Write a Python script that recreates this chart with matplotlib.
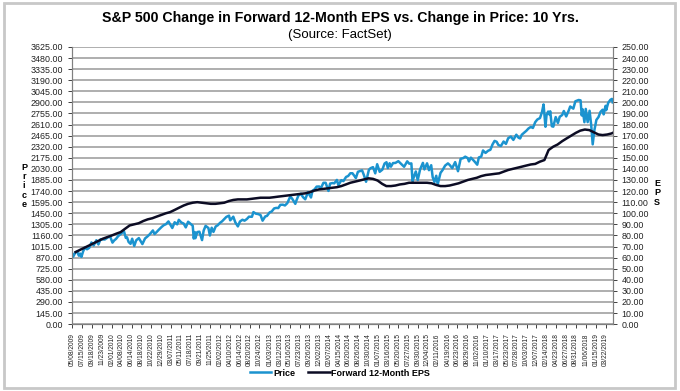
import pandas as pd
import numpy as np
import matplotlib
matplotlib.use("Agg")
import matplotlib.pyplot as plt
from matplotlib.patches import Rectangle

plt.rcParams['font.family'] = ['Liberation Sans', 'DejaVu Sans']

# S&P 500 price (left axis)
price_dates = [
    '2009-05-08', '2009-05-15', '2009-06-01', '2009-06-12', '2009-06-23', '2009-07-01', '2009-07-10', '2009-07-22',
    '2009-08-03', '2009-08-17', '2009-09-01', '2009-09-16', '2009-10-01', '2009-10-19', '2009-11-02', '2009-11-16',
    '2009-12-01', '2009-12-15',
    '2010-01-04', '2010-01-19', '2010-02-05', '2010-02-16', '2010-03-01', '2010-03-15', '2010-04-01', '2010-04-23',
    '2010-05-06', '2010-05-14', '2010-05-25', '2010-06-07', '2010-06-18', '2010-07-02', '2010-07-15', '2010-08-02',
    '2010-08-16', '2010-08-26', '2010-09-13', '2010-09-27', '2010-10-15', '2010-11-05', '2010-11-16', '2010-12-01',
    '2010-12-15',
    '2011-01-03', '2011-01-18', '2011-02-01', '2011-02-18', '2011-03-01', '2011-03-16', '2011-04-01', '2011-04-18',
    '2011-04-29', '2011-05-16', '2011-06-01', '2011-06-15', '2011-07-01', '2011-07-15', '2011-08-01', '2011-08-08',
    '2011-08-15', '2011-08-19', '2011-09-01', '2011-09-15', '2011-10-03', '2011-10-14', '2011-10-27', '2011-11-15',
    '2011-11-25', '2011-12-07', '2011-12-19',
    '2012-01-03', '2012-01-17', '2012-02-01', '2012-02-15', '2012-03-01', '2012-03-15', '2012-04-02', '2012-04-10',
    '2012-04-16', '2012-05-01', '2012-05-15', '2012-06-01', '2012-06-15', '2012-07-02', '2012-07-16', '2012-08-01',
    '2012-08-15', '2012-09-04', '2012-09-14', '2012-10-01', '2012-10-15', '2012-11-01', '2012-11-15', '2012-12-03',
    '2012-12-14',
    '2013-01-02', '2013-01-15', '2013-02-01', '2013-02-15', '2013-03-01', '2013-03-15', '2013-04-01', '2013-04-15',
    '2013-05-01', '2013-05-21', '2013-06-03', '2013-06-24', '2013-07-01', '2013-07-15', '2013-08-01', '2013-08-15',
    '2013-08-30', '2013-09-18', '2013-10-08', '2013-10-18', '2013-11-01', '2013-11-15', '2013-12-02', '2013-12-13',
    '2013-12-31',
    '2014-01-15', '2014-02-03', '2014-02-14', '2014-03-03', '2014-03-14', '2014-04-01', '2014-04-11', '2014-05-01',
    '2014-05-15', '2014-06-02', '2014-06-16', '2014-07-01', '2014-07-15', '2014-07-31', '2014-08-07', '2014-08-21',
    '2014-09-18', '2014-10-01', '2014-10-15', '2014-11-03', '2014-11-14', '2014-12-01', '2014-12-16', '2014-12-29',
    '2015-01-15', '2015-02-02', '2015-02-17', '2015-03-02', '2015-03-11', '2015-03-23', '2015-04-01', '2015-04-15',
    '2015-05-01', '2015-05-21', '2015-06-01', '2015-06-15', '2015-06-29', '2015-07-20', '2015-08-03', '2015-08-17',
    '2015-08-25', '2015-09-01', '2015-09-16', '2015-09-29', '2015-10-15', '2015-11-03', '2015-11-13', '2015-12-01',
    '2015-12-14', '2015-12-29',
    '2016-01-08', '2016-01-20', '2016-02-01', '2016-02-11', '2016-03-01', '2016-03-15', '2016-04-01', '2016-04-20',
    '2016-05-02', '2016-05-19', '2016-06-08', '2016-06-27', '2016-07-15', '2016-08-01', '2016-08-15', '2016-09-01',
    '2016-09-09', '2016-09-22', '2016-10-14', '2016-11-04', '2016-11-15', '2016-12-01', '2016-12-13', '2016-12-30',
    '2017-01-17', '2017-02-01', '2017-02-15', '2017-03-01', '2017-03-15', '2017-03-27', '2017-04-13', '2017-05-01',
    '2017-05-17', '2017-06-01', '2017-06-19', '2017-07-06', '2017-07-26', '2017-08-10', '2017-08-21', '2017-09-01',
    '2017-09-15', '2017-10-02', '2017-10-16', '2017-11-01', '2017-11-15', '2017-12-01', '2017-12-15',
    '2018-01-02', '2018-01-16', '2018-01-26', '2018-02-08', '2018-02-15', '2018-02-26', '2018-03-08', '2018-03-12',
    '2018-03-23', '2018-04-02', '2018-04-18', '2018-05-03', '2018-05-15', '2018-06-01', '2018-06-12', '2018-06-28',
    '2018-07-16', '2018-07-25', '2018-08-15', '2018-08-29', '2018-09-20', '2018-10-03', '2018-10-11', '2018-10-17',
    '2018-10-29', '2018-11-07', '2018-11-20', '2018-12-03', '2018-12-14', '2018-12-24',
    '2019-01-04', '2019-01-18', '2019-02-01', '2019-02-15', '2019-03-01', '2019-03-08', '2019-03-21', '2019-03-25',
    '2019-04-08', '2019-04-23', '2019-05-03', '2019-05-08',
]
price_vals = [
    929, 882, 942, 946, 895, 923, 879, 954,
    1002, 979, 998, 1068, 1029, 1097, 1042, 1109,
    1108, 1107,
    1133, 1150, 1066, 1094, 1115, 1150, 1178, 1217,
    1128, 1136, 1074, 1050, 1117, 1022, 1096, 1125,
    1079, 1047, 1121, 1143, 1176, 1225, 1178, 1206,
    1235,
    1271, 1295, 1307, 1343, 1306, 1257, 1332, 1305,
    1364, 1329, 1315, 1265, 1339, 1316, 1287, 1119,
    1204, 1124, 1204, 1209, 1099, 1224, 1285, 1257,
    1159, 1261, 1206,
    1277, 1293, 1324, 1344, 1374, 1402, 1419, 1358,
    1369, 1405, 1330, 1278, 1342, 1365, 1353, 1375,
    1405, 1404, 1465, 1444, 1440, 1427, 1353, 1409,
    1414,
    1462, 1472, 1513, 1520, 1518, 1560, 1562, 1552,
    1582, 1669, 1640, 1573, 1614, 1682, 1706, 1661,
    1633, 1725, 1656, 1745, 1762, 1798, 1800, 1775,
    1848,
    1848, 1742, 1838, 1845, 1841, 1886, 1816, 1883,
    1870, 1925, 1937, 1973, 1973, 1931, 1910, 1992,
    2011, 1946, 1862, 2017, 2039, 2053, 1972, 2091,
    1992, 2020, 2100, 2117, 2040, 2104, 2059, 2106,
    2108, 2131, 2111, 2084, 2058, 2129, 2098, 2102,
    1868, 1914, 1996, 1884, 2023, 2109, 2023, 2103,
    2013, 2078,
    1922, 1859, 1940, 1829, 1978, 2015, 2073, 2102,
    2081, 2040, 2119, 2000, 2162, 2171, 2190, 2171,
    2128, 2177, 2133, 2085, 2180, 2191, 2271, 2239,
    2268, 2280, 2349, 2396, 2385, 2342, 2329, 2388,
    2357, 2431, 2453, 2409, 2477, 2438, 2428, 2477,
    2500, 2529, 2558, 2579, 2565, 2642, 2676,
    2695, 2777, 2873, 2581, 2731, 2780, 2738, 2783,
    2588, 2582, 2708, 2630, 2711, 2735, 2787, 2716,
    2798, 2846, 2818, 2914, 2931, 2926, 2729, 2809,
    2641, 2814, 2642, 2790, 2600, 2351,
    2532, 2671, 2707, 2776, 2804, 2743, 2855, 2798,
    2895, 2934, 2945, 2900,
]

# Forward 12-month EPS (right axis), first of each month May 2009 - May 2019
eps_vals = [
    65, 67, 69, 71, 73, 75, 77, 78.5,
    80, 81.5, 83, 86, 89, 90, 91, 93, 94.5, 95.5, 97, 98.5,
    100, 101, 103, 105, 107, 108.5, 109.5, 110, 109.5, 109, 108.5, 108.5,
    109, 109.5, 111, 112, 112.5, 112.5, 112.5, 113, 113.5, 114, 114, 114,
    114.5, 115, 115.5, 116, 116.5, 117, 117.5, 118, 119, 120.5, 121.5, 122,
    122.5, 123, 123.5, 124.5, 126, 127.5, 128.5, 129.5, 130.5, 131.5, 131, 129.5,
    126.5, 124.5, 124.5, 125, 126, 126.5, 127.5, 127.5, 127.5, 127.5, 127.5, 127,
    125.5, 124.5, 124.5, 125, 126, 127, 128.5, 130, 131, 132, 133.5, 134.5,
    135, 135.5, 136, 137.5, 139, 140, 141, 142, 143, 144, 144.5, 146.5,
    148, 157, 160, 162, 165, 167.5, 170, 172.5, 174.5, 175.5, 175, 173,
    171, 170.5, 171, 172, 174,
]
eps_dates = pd.date_range('2009-05-08', periods=len(eps_vals), freq='MS')

tick_labels = [
    '05/08/2009', '07/15/2009', '09/18/2009', '11/23/2009', '02/01/2010', '04/08/2010', '06/14/2010',
    '08/18/2010', '10/22/2010', '12/29/2010', '03/07/2011', '05/11/2011', '07/18/2011', '09/21/2011',
    '11/25/2011', '02/02/2012', '04/10/2012', '06/14/2012', '08/20/2012', '10/24/2012', '01/03/2013',
    '03/12/2013', '05/16/2013', '07/23/2013', '09/26/2013', '12/02/2013', '02/07/2014', '04/15/2014',
    '06/20/2014', '08/26/2014', '10/30/2014', '01/07/2015', '03/16/2015', '05/20/2015', '07/27/2015',
    '09/30/2015', '12/04/2015', '02/11/2016', '04/19/2016', '06/23/2016', '08/29/2016', '11/02/2016',
    '01/10/2017', '03/17/2017', '05/23/2017', '07/28/2017', '10/03/2017', '12/07/2017', '02/14/2018',
    '04/23/2018', '06/27/2018', '08/31/2018', '11/06/2018', '01/15/2019', '03/22/2019',
]

fig = plt.figure(figsize=(6.8, 3.91), dpi=100)
fig.patches.append(Rectangle((0.006, 0.008), 0.986, 0.984, transform=fig.transFigure,
                             fill=False, edgecolor='#c8c8c8', lw=2))

ax = fig.add_axes([0.106, 0.171, 0.795, 0.709])
ax2 = ax.twinx()

p_line, = ax.plot(pd.to_datetime(price_dates), price_vals, color='#1b93cf', lw=1.8, label='Price')
e_line, = ax2.plot(eps_dates, eps_vals, color='#0c0c24', lw=1.8, label='Forward 12-Month EPS')

ax.set_xlim(pd.Timestamp('2009-05-08'), pd.Timestamp('2019-05-08'))
ax.set_ylim(0, 3625)
ax2.set_ylim(0, 250)

left_ticks = np.arange(0, 3626, 145)
right_ticks = np.arange(0, 251, 10)
ax.set_yticks(left_ticks)
ax.set_yticklabels([f'{v:.2f}' for v in left_ticks], fontsize=6.4)
ax2.set_yticks(right_ticks)
ax2.set_yticklabels([f'{v:.2f}' for v in right_ticks], fontsize=6.4)

ax.set_xticks(pd.to_datetime(tick_labels, format='%m/%d/%Y'))
ax.set_xticklabels(tick_labels, rotation=90, fontsize=4.8)

ax.yaxis.grid(True, color='#a8a8a8', lw=1.3)
ax.set_axisbelow(True)
for a in (ax, ax2):
    a.spines['top'].set_visible(False)
    for s in ('left', 'right', 'bottom'):
        a.spines[s].set_color('#808080')
    a.tick_params(colors='#222222', length=3, width=0.6)

fig.text(0.5, 1 - 18 / 391, 'S&P 500 Change in Forward 12-Month EPS vs. Change in Price: 10 Yrs.',
         ha='center', va='center', fontsize=10.2, fontweight='bold')
fig.text(0.5, 1 - 35 / 391, '(Source: FactSet)', ha='center', va='center', fontsize=9.5)
fig.text(24 / 680, 1 - 186 / 391, 'P\nr\ni\nc\ne', ha='center', va='center',
         fontsize=6.5, fontweight='bold', linespacing=1.05)
fig.text(657 / 680, 1 - 193 / 391, 'E\nP\nS', ha='center', va='center',
         fontsize=6.5, fontweight='bold', linespacing=1.05)

leg = fig.legend(handles=[p_line, e_line], loc='center', bbox_to_anchor=(0.5, 0.046), ncol=2,
                 frameon=False, prop={'size': 6.5, 'weight': 'bold'}, handlelength=2.4,
                 handletextpad=0.2, columnspacing=1.4)

fig.savefig('out.png', dpi=100)
